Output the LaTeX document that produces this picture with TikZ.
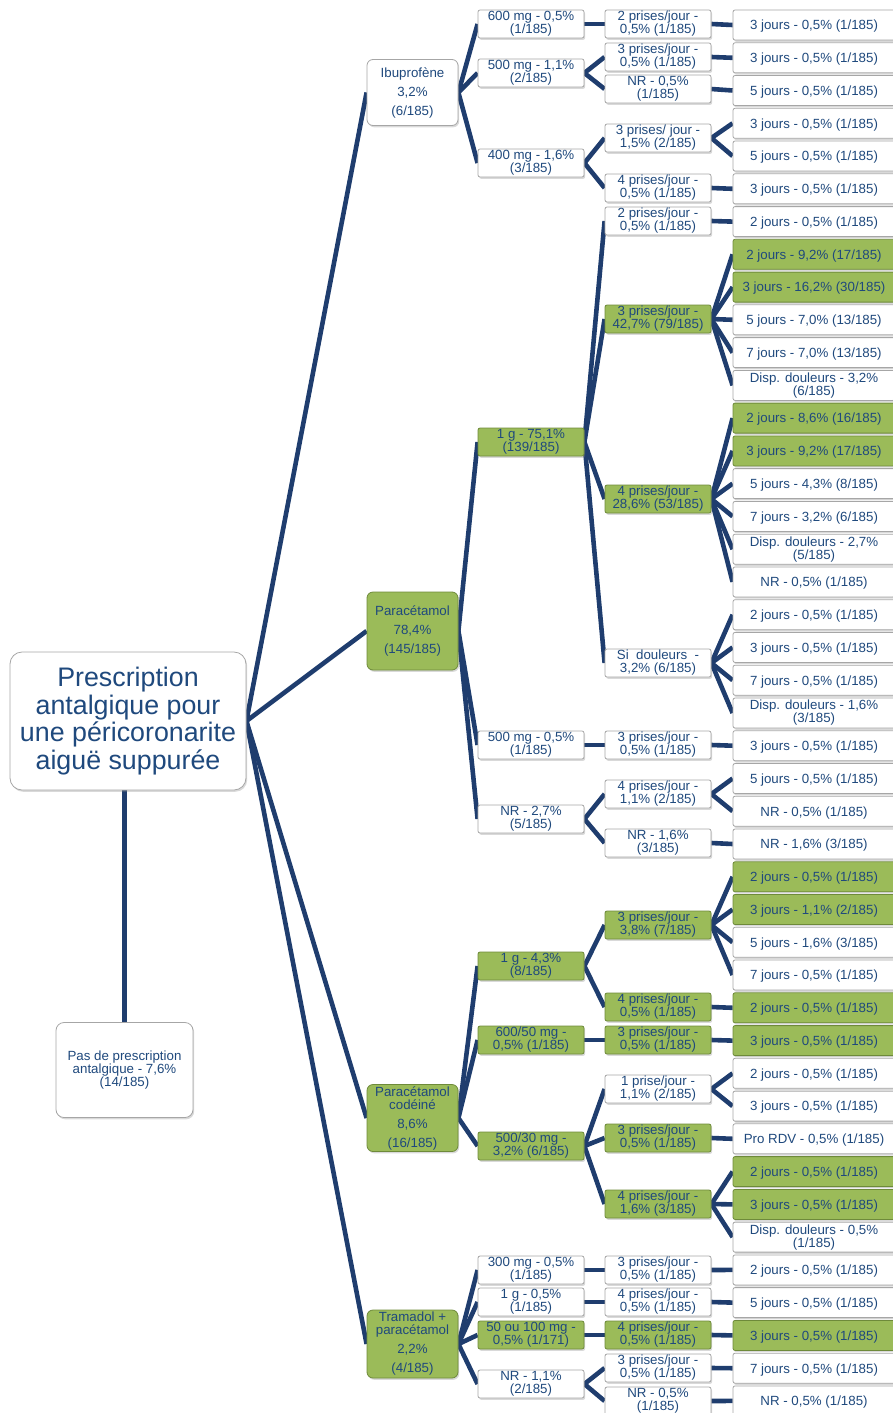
\documentclass[tikz,border=0pt]{standalone}
\usepackage{fontspec}
\setmainfont{Liberation Sans}
\usetikzlibrary{shadows,backgrounds}
\definecolor{navy}{RGB}{31,61,110}
\definecolor{txtblue}{RGB}{31,73,125}
\definecolor{olive}{HTML}{9BBB59}
\definecolor{oliveline}{HTML}{6E8A3A}
\begin{document}
\begin{tikzpicture}[x=1pt,y=-1pt,
    cell/.style={rectangle, rounded corners=2pt, draw=gray!70, fill=white, line width=0.8pt,
      text=txtblue, align=center, inner sep=1pt, font=\fontsize{13.3}{13}\selectfont,
      execute at begin node={\rule{0pt}{12.4pt}},
      drop shadow={shadow xshift=1.2pt, shadow yshift=-1.8pt, opacity=0.3}},
    gbox/.style={fill=olive, draw=oliveline},
    drug/.style={cell, rounded corners=6pt, minimum width=91pt, minimum height=66pt},
    dose/.style={cell, minimum width=106pt, minimum height=28pt},
    freq/.style={cell, minimum width=106pt, minimum height=28pt},
    leaf/.style={cell, minimum width=162pt, minimum height=30pt},
    link/.style={draw=navy, line width=4.6pt}]
\useasboundingbox (0,0) rectangle (892,1413);

% root and no prescription
\node[cell, rounded corners=12pt, minimum width=236pt, minimum height=138pt, font=\fontsize{26.8}{27.7}\selectfont] (r) at (128,721) {Prescription\\antalgique pour\\une péricoronarite\\aiguë suppurée};
\node[cell, rounded corners=8pt, minimum width=137pt, minimum height=95pt] (np) at (124.5,1070) {Pas de prescription\\antalgique - 7,6\%\\(14/185)};

% drugs
\node[drug] (ibu) at (412.5,92.5) {Ibuprofène\\[6pt]3,2\%\\[6pt](6/185)};
\node[drug, gbox, minimum height=78pt] (para) at (412.5,631) {Paracétamol\\[6pt]78,4\%\\[6pt](145/185)};
\node[drug, gbox, minimum height=67pt] (codo) at (412.5,1118) {Paracétamol\\codéiné\\[6pt]8,6\%\\[6pt](16/185)};
\node[drug, gbox, minimum height=68pt] (tram) at (412.5,1344) {Tramadol +\\paracétamol\\[6pt]2,2\%\\[6pt](4/185)};

% doses
\node[dose] (i600) at (531,24) {600 mg - 0,5\%\\(1/185)};
\node[dose] (i500) at (531,73) {500 mg - 1,1\%\\(2/185)};
\node[dose] (i400) at (531,163) {400 mg - 1,6\%\\(3/185)};
\node[dose, gbox] (p1g) at (531,442) {1 g - 75,1\%\\(139/185)};
\node[dose] (p500) at (531,745) {500 mg - 0,5\%\\(1/185)};
\node[dose] (pnr) at (531,819) {NR - 2,7\%\\(5/185)};
\node[dose, gbox] (c1g) at (531,966) {1 g - 4,3\%\\(8/185)};
\node[dose, gbox] (c600) at (531,1040) {600/50 mg -\\0,5\% (1/185)};
\node[dose, gbox] (c500) at (531,1146) {500/30 mg -\\3,2\% (6/185)};
\node[dose] (t300) at (531,1270) {300 mg - 0,5\%\\(1/185)};
\node[dose] (t1g) at (531,1302) {1 g - 0,5\%\\(1/185)};
\node[dose, gbox] (t50) at (531,1335) {50 ou 100 mg -\\0,5\% (1/171)};
\node[dose] (tnr) at (531,1384) {NR - 1,1\%\\(2/185)};

% frequencies
\node[freq] (f1) at (658,24) {2 prises/jour -\\0,5\% (1/185)};
\node[freq] (f2) at (658,57) {3 prises/jour -\\0,5\% (1/185)};
\node[freq] (f3) at (658,89) {NR - 0,5\%\\(1/185)};
\node[freq] (f4) at (658,138) {3 prises/ jour -\\1,5\% (2/185)};
\node[freq] (f5) at (658,188) {4 prises/jour -\\0,5\% (1/185)};
\node[freq] (f6) at (658,221) {2 prises/jour -\\0,5\% (1/185)};
\node[freq, gbox] (f7) at (658,319) {3 prises/jour -\\42,7\% (79/185)};
\node[freq, gbox] (f8) at (658,499) {4 prises/jour -\\28,6\% (53/185)};
\node[freq] (f9) at (658,663) {Si\ \ douleurs\ \ -\\3,2\% (6/185)};
\node[freq] (f10) at (658,745) {3 prises/jour -\\0,5\% (1/185)};
\node[freq] (f11) at (658,794) {4 prises/jour -\\1,1\% (2/185)};
\node[freq] (f12) at (658,843) {NR - 1,6\%\\(3/185)};
\node[freq, gbox] (f13) at (658,925) {3 prises/jour -\\3,8\% (7/185)};
\node[freq, gbox] (f14) at (658,1007) {4 prises/jour -\\0,5\% (1/185)};
\node[freq, gbox] (f15) at (658,1040) {3 prises/jour -\\0,5\% (1/185)};
\node[freq] (f16) at (658,1089) {1 prise/jour -\\1,1\% (2/185)};
\node[freq, gbox] (f17) at (658,1138) {3 prises/jour -\\0,5\% (1/185)};
\node[freq, gbox] (f18) at (658,1204) {4 prises/jour -\\1,6\% (3/185)};
\node[freq] (f19) at (658,1270) {3 prises/jour -\\0,5\% (1/185)};
\node[freq] (f20) at (658,1302) {4 prises/jour -\\0,5\% (1/185)};
\node[freq, gbox] (f21) at (658,1335) {4 prises/jour -\\0,5\% (1/185)};
\node[freq] (f22) at (658,1368) {3 prises/jour -\\0,5\% (1/185)};
\node[freq] (f23) at (658,1401) {NR - 0,5\%\\(1/185)};

% durations
\node[leaf] (d1) at (814,25) {3 jours - 0,5\% (1/185)};
\node[leaf] (d2) at (814,57.8) {3 jours - 0,5\% (1/185)};
\node[leaf] (d3) at (814,90.5) {5 jours - 0,5\% (1/185)};
\node[leaf] (d4) at (814,123.3) {3 jours - 0,5\% (1/185)};
\node[leaf] (d5) at (814,156) {5 jours - 0,5\% (1/185)};
\node[leaf] (d6) at (814,188.8) {3 jours - 0,5\% (1/185)};
\node[leaf] (d7) at (814,221.6) {2 jours - 0,5\% (1/185)};
\node[leaf, gbox] (d8) at (814,254.3) {2 jours - 9,2\% (17/185)};
\node[leaf, gbox] (d9) at (814,287.1) {3 jours - 16,2\% (30/185)};
\node[leaf] (d10) at (814,319.8) {5 jours - 7,0\% (13/185)};
\node[leaf] (d11) at (814,352.6) {7 jours - 7,0\% (13/185)};
\node[leaf] (d12) at (814,385.4) {Disp. douleurs - 3,2\%\\(6/185)};
\node[leaf, gbox] (d13) at (814,418.1) {2 jours - 8,6\% (16/185)};
\node[leaf, gbox] (d14) at (814,450.9) {3 jours - 9,2\% (17/185)};
\node[leaf] (d15) at (814,483.6) {5 jours - 4,3\% (8/185)};
\node[leaf] (d16) at (814,516.4) {7 jours - 3,2\% (6/185)};
\node[leaf] (d17) at (814,549.2) {Disp. douleurs - 2,7\%\\(5/185)};
\node[leaf] (d18) at (814,581.9) {NR - 0,5\% (1/185)};
\node[leaf] (d19) at (814,614.7) {2 jours - 0,5\% (1/185)};
\node[leaf] (d20) at (814,647.4) {3 jours - 0,5\% (1/185)};
\node[leaf] (d21) at (814,680.2) {7 jours - 0,5\% (1/185)};
\node[leaf] (d22) at (814,713) {Disp. douleurs - 1,6\%\\(3/185)};
\node[leaf] (d23) at (814,745.7) {3 jours - 0,5\% (1/185)};
\node[leaf] (d24) at (814,778.5) {5 jours - 0,5\% (1/185)};
\node[leaf] (d25) at (814,811.2) {NR - 0,5\% (1/185)};
\node[leaf] (d26) at (814,844) {NR - 1,6\% (3/185)};
\node[leaf, gbox] (d27) at (814,876.8) {2 jours - 0,5\% (1/185)};
\node[leaf, gbox] (d28) at (814,909.5) {3 jours - 1,1\% (2/185)};
\node[leaf] (d29) at (814,942.3) {5 jours - 1,6\% (3/185)};
\node[leaf] (d30) at (814,975) {7 jours - 0,5\% (1/185)};
\node[leaf, gbox] (d31) at (814,1007.8) {2 jours - 0,5\% (1/185)};
\node[leaf, gbox] (d32) at (814,1040.6) {3 jours - 0,5\% (1/185)};
\node[leaf] (d33) at (814,1073.3) {2 jours - 0,5\% (1/185)};
\node[leaf] (d34) at (814,1106.1) {3 jours - 0,5\% (1/185)};
\node[leaf] (d35) at (814,1138.8) {Pro RDV - 0,5\% (1/185)};
\node[leaf, gbox] (d36) at (814,1171.6) {2 jours - 0,5\% (1/185)};
\node[leaf, gbox] (d37) at (814,1204.4) {3 jours - 0,5\% (1/185)};
\node[leaf] (d38) at (814,1237.1) {Disp. douleurs - 0,5\%\\(1/185)};
\node[leaf] (d39) at (814,1269.9) {2 jours - 0,5\% (1/185)};
\node[leaf] (d40) at (814,1302.6) {5 jours - 0,5\% (1/185)};
\node[leaf, gbox] (d41) at (814,1335.4) {3 jours - 0,5\% (1/185)};
\node[leaf] (d42) at (814,1368.2) {7 jours - 0,5\% (1/185)};
\node[leaf] (d43) at (814,1400.9) {NR - 0,5\% (1/185)};

% connectors
\begin{pgfonlayer}{background}
\draw[link] (np.north) -- (np.north |- r.south);
\foreach \a/\b in {r/ibu, r/para, r/codo, r/tram,
    ibu/i600, ibu/i500, ibu/i400, para/p1g, para/p500, para/pnr,
    codo/c1g, codo/c600, codo/c500, tram/t300, tram/t1g, tram/t50, tram/tnr}
  \draw[link] (\a.east) -- (\b.west);
\foreach \a/\b in {i600/f1, i500/f2, i500/f3, i400/f4, i400/f5,
    p1g/f6, p1g/f7, p1g/f8, p1g/f9, p500/f10, pnr/f11, pnr/f12,
    c1g/f13, c1g/f14, c600/f15, c500/f16, c500/f17, c500/f18,
    t300/f19, t1g/f20, t50/f21, tnr/f22, tnr/f23}
  \draw[link] (\a.east) -- (\b.west);
\foreach \a/\b in {f1/d1, f2/d2, f3/d3, f4/d4, f4/d5, f5/d6, f6/d7,
    f7/d8, f7/d9, f7/d10, f7/d11, f7/d12,
    f8/d13, f8/d14, f8/d15, f8/d16, f8/d17, f8/d18,
    f9/d19, f9/d20, f9/d21, f9/d22, f10/d23, f11/d24, f11/d25, f12/d26,
    f13/d27, f13/d28, f13/d29, f13/d30, f14/d31, f15/d32,
    f16/d33, f16/d34, f17/d35, f18/d36, f18/d37, f18/d38,
    f19/d39, f20/d40, f21/d41, f22/d42, f23/d43}
  \draw[link] (\a.east) -- (\b.west);
\end{pgfonlayer}
\end{tikzpicture}
\end{document}
